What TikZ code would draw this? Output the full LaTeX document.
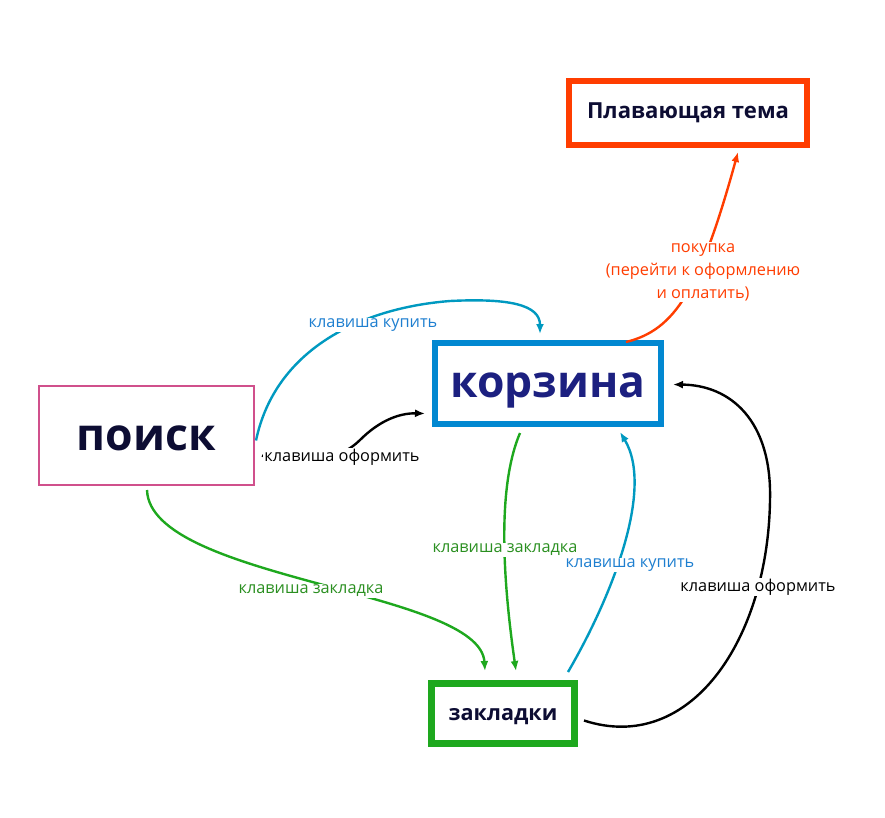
\documentclass[tikz,border=0pt]{standalone}
\usepackage{fontspec}
\setmainfont{Open Sans}
\usetikzlibrary{arrows.meta,calc}
\definecolor{navy}{HTML}{0D0D33}
\definecolor{kcol}{HTML}{1C2080}
\definecolor{orng}{HTML}{FF3D00}
\definecolor{kblue}{HTML}{0288D1}
\definecolor{pink}{HTML}{D0508C}
\definecolor{grn}{HTML}{1EA81E}
\definecolor{lgrn}{HTML}{2A8F20}
\definecolor{lblue}{HTML}{0099C0}
\definecolor{tblue}{HTML}{1E7FD0}
\begin{document}
\begin{tikzpicture}[x=1pt,y=-1pt,
  box/.style={draw, rectangle, inner sep=0pt, font=\bfseries},
  lbl/.style={fill=white, inner sep=1pt, font=\fontsize{16.3}{23}\selectfont, align=center},
  arr/.style={line width=2.4pt, -{Latex[length=10pt,width=8pt]}}]
\useasboundingbox (0,0) rectangle (885,817);
\node[box, draw=orng, line width=6pt, minimum width=238pt, minimum height=64pt, text=navy, text height=14pt, text depth=4pt, font=\bfseries\fontsize{22.1}{26}\selectfont] (t) at (688,113) {Плавающая тема};
\node[box, draw=kblue, line width=6pt, minimum width=226pt, minimum height=81pt, text=kcol, text height=30pt, text depth=3pt, font=\bfseries\fontsize{44.4}{50}\selectfont] (k) at (548,383.5) {корзина};
\node[box, draw=pink, line width=2pt, minimum width=215pt, minimum height=99pt, text=navy, text height=32pt, text depth=3pt, font=\bfseries\fontsize{44.5}{50}\selectfont] (p) at (146.5,435.5) {поиск};
\node[box, draw=grn, line width=7pt, minimum width=143pt, minimum height=60pt, text=navy, text height=16pt, text depth=3pt, font=\bfseries\fontsize{21.6}{25}\selectfont] (z) at (503,713.5) {закладки};
% orange
\draw[arr, orng] ($(k.north east)+(-38,2)$) .. controls (675,330) and (700,290) .. ($(t.south)+(50,4)$);
\node[lbl, text=orng] (lo) at (703,272) {покупка\\(перейти к оформлению\\и оплатить)};
% blue top
\draw[arr, lblue] ($(p.east)+(1,5)$) .. controls (275,350) and (360,308) .. (450,301) .. controls (510,298) and (540,305) .. ($(k.north)+(-8,-6)$);
\node[lbl, text=tblue] (lb1) at (373,325) {клавиша купить};
% black left
\draw[arr, black] ($(p.east)+(7,20)$) .. controls (300,470) and (340,460) .. (360,440) .. controls (380,420) and (400,413) .. ($(k.west)+(-7,30)$);
\node[lbl, text=black] (lk1) at (342,457) {клавиша оформить};
% green from poisk
\draw[arr, grn] ($(p.south)+(0.5,4)$) .. controls (150,580) and (480,590) .. ($(z.north)+(-18,-9)$);
\node[lbl, text=lgrn] (lg1) at (311,591) {клавиша закладка};
% green from korzina
\draw[arr, grn] ($(k.south)+(-28,6)$) .. controls (500,480) and (500,560) .. ($(z.north)+(13,-9)$);
\node[lbl, text=lgrn] (lg2) at (505,550) {клавиша закладка};
% blue from zakladki
\draw[arr, lblue] ($(z.north east)+(-10,-8)$) .. controls (610,600) and (655,490) .. ($(k.south)+(72,5)$);
\node[lbl, text=tblue] (lb2) at (630,565) {клавиша купить};
% black right
\draw[arr, black] ($(z.east)+(6,7)$) .. controls (690,755) and (768,640) .. (770,500) .. controls (772,420) and (730,385) .. ($(k.east)+(9,1)$);
\node[lbl, text=black] (lk2) at (758,587) {клавиша оформить};
\end{tikzpicture}
\end{document}
